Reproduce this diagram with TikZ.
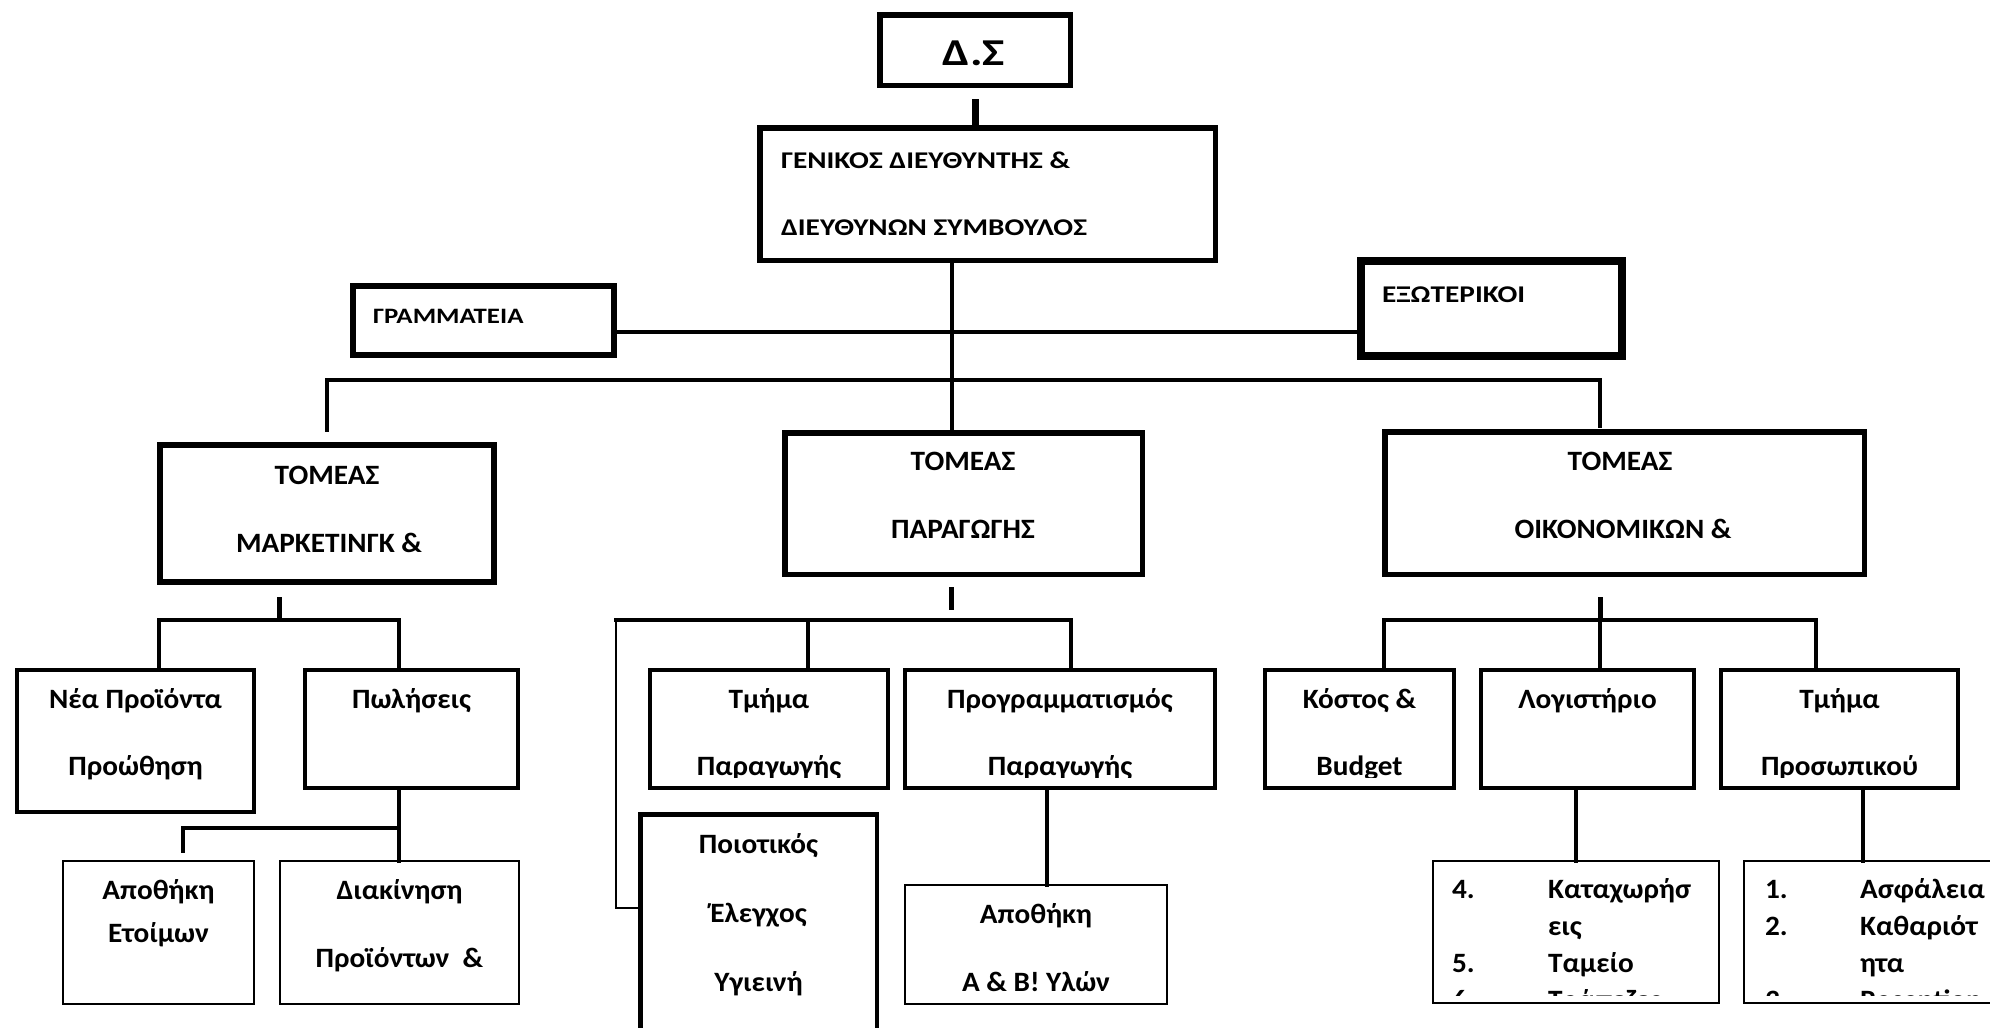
\documentclass[tikz,border=0pt]{standalone}
\usepackage{fontspec}
\setmainfont{Carlito}
\newfontfamily\wideS{Carlito}[FakeStretch=1.045]
\newfontfamily\wideT{Carlito}[FakeStretch=1.22]
\newfontfamily\wideD{Carlito}[FakeStretch=1.24]
\usetikzlibrary{calc}
\newcommand\fsz[2]{#1\fontsize{#2}{#2}\selectfont\bfseries}
% outer-edge box: name, x1, y1, x2, y2, line width
\newcommand\obox[6]{\node[draw=black, line width=#6pt, inner sep=0pt, outer sep=0pt,
  minimum width={(#4-#2-#6)*1pt}, minimum height={(#5-#3-#6)*1pt}]
  (#1) at ({(#2+#4)/2},{(#3+#5)/2}) {};}
\tikzset{
  lbl/.style={inner sep=0pt, outer sep=0pt, anchor=base},
  lblw/.style={lbl, anchor=base west},
  top/.style={font=\fsz{\wideT}{24}},
  sect/.style={font=\fsz{\wideS}{28}},
  sub/.style={font=\fsz{\wideS}{28}},
  conn/.style={line width=3.5pt, line cap=rect},
  stubline/.style={line width=5pt},
  thinconn/.style={line width=1.6pt},
}
\begin{document}
\begin{tikzpicture}[x=1pt,y=-1pt]
\useasboundingbox (0,0) rectangle (1990,1028);
\clip (0,0) rectangle (1990,1028);
\fill[white] (0,0) rectangle (1990,1028);

% ---------- boxes ----------
\obox{ds}{877}{12}{1073}{88}{5.5}
\obox{gen}{757}{125}{1218}{263}{5.5}
\obox{gram}{350}{283}{617}{358}{6}
\obox{ext}{1357}{257}{1626}{360}{8}
\obox{mkt}{157}{442}{497}{585}{6}
\obox{prod}{782}{430}{1145}{577}{5.5}
\obox{fin}{1382}{429}{1867}{577}{5.5}
\obox{nea}{15}{668}{256}{814}{4}
\obox{pol}{303}{668}{520}{790}{4}
\obox{tmp}{648}{668}{890}{790}{4}
\obox{prog}{903}{668}{1217}{790}{4}
\obox{kost}{1263}{668}{1456}{790}{4}
\obox{log}{1479}{668}{1696}{790}{4}
\obox{tpr}{1719}{668}{1960}{790}{4}
\obox{apet}{62}{860}{255}{1005}{2}
\obox{diak}{279}{860}{520}{1005}{2}
\obox{poi}{638}{812}{879}{1060}{4.5}
\obox{apab}{904}{884}{1168}{1005}{2}
\obox{kat}{1432}{860}{1720}{1004}{2}
\obox{asf}{1743}{860}{2030}{1004}{2}

% ---------- connectors ----------
\coordinate (s0) at (975,99);
\draw[line width=7pt] (s0) -- (s0 |- gen.north);
\coordinate (tr) at (952,0);
\draw[conn] (tr |- gen.south) -- (tr |- prod.north);
\coordinate (sl) at (0,332);
\draw[conn] (gram.east |- sl) -- (ext.west |- sl);
\coordinate (bL) at (327,430);
\coordinate (b1) at (327,380);
\coordinate (b2) at (1600,380);
\coordinate (bR) at (1600,426);
\draw[conn] (bL) -- (b1) -- (b2) -- (bR);

% marketing
\coordinate (m0) at (279,597);
\coordinate (m1) at (279,620);
\draw[stubline] (m0) -- (m1);
\coordinate (mL) at (159,620);
\coordinate (mR) at (399,620);
\draw[conn] (mL |- nea.north) -- (mL) -- (mR) -- (mR |- pol.north);
\coordinate (p1) at (399,828);
\coordinate (p2) at (183,828);
\coordinate (p3) at (183,851);
\draw[conn] (p1 |- pol.south) -- (p1 |- diak.north);
\draw[conn] (p1) -- (p2) -- (p3);

% production
\coordinate (q0) at (951,587);
\coordinate (q1) at (951,610);
\draw[stubline] (q0) -- (q1);
\coordinate (qL) at (616,620);
\coordinate (qA) at (808,620);
\coordinate (qR) at (1071,620);
\draw[conn] (qL) -- (qR) -- (qR |- prog.north);
\draw[conn] (qA) -- (qA |- tmp.north);
\coordinate (qc) at (616,908);
\draw[thinconn] (qL) -- (qc) -- (qc -| poi.west);
\coordinate (g1) at (1047,0);
\draw[conn] (g1 |- prog.south) -- (g1 |- apab.north);

% finance
\coordinate (f0) at (1600,597);
\coordinate (f1) at (1600,620);
\draw[stubline] (f0) -- (f1);
\coordinate (fL) at (1384,620);
\coordinate (fR) at (1816,620);
\draw[conn] (fL |- kost.north) -- (fL) -- (fR) -- (fR |- tpr.north);
\draw[conn] (f1) -- (f1 |- log.north);
\coordinate (l1) at (1576,0);
\draw[conn] (l1 |- log.south) -- (l1 |- kat.north);
\coordinate (l2) at (1863,0);
\draw[conn] (l2 |- tpr.south) -- (l2 |- asf.north);

% ---------- texts ----------
\node[lbl, font=\fsz{\wideD}{38}] (tds) at (974,65) {Δ.Σ};
\node[lblw, top] (tgen1) at (781,168) {ΓΕΝΙΚΟΣ ΔΙΕΥΘΥΝΤΗΣ \&};
\node[lblw, top] (tgen2) at (781,235) {ΔΙΕΥΘΥΝΩΝ ΣΥΜΒΟΥΛΟΣ};
\node[lblw, font=\fsz{\wideT}{22}] (tgram) at (373,323) {ΓΡΑΜΜΑΤΕΙΑ};
\node[lblw, top] (text) at (1382,302) {ΕΞΩΤΕΡΙΚΟΙ};

\node[lbl, sect] (tmkt1) at (327,484) {ΤΟΜΕΑΣ};
\node[lbl, sect] (tmkt2) at (329,552) {ΜΑΡΚΕΤΙΝΓΚ \&};
\node[lbl, sect] (tprod1) at (963,470) {ΤΟΜΕΑΣ};
\node[lbl, sect] (tprod2) at (963,538) {ΠΑΡΑΓΩΓΗΣ};
\node[lbl, sect] (tfin1) at (1620,470) {ΤΟΜΕΑΣ};
\node[lbl, sect] (tfin2) at (1623,538) {ΟΙΚΟΝΟΜΙΚΩΝ \&};

\node[lbl, sub] (tnea1) at (135.5,708) {Νέα Προϊόντα};
\node[lbl, sub] (tnea2) at (135.5,775) {Προώθηση};
\node[lbl, sub] (tpol) at (411.5,708) {Πωλήσεις};
\node[lbl, sub] (ttmp1) at (769,708) {Τμήμα};
\node[lbl, sub] (tprog1) at (1060,708) {Προγραμματισμός};
\node[lbl, sub] (tkost1) at (1359.5,708) {Κόστος \&};
\node[lbl, sub] (tlog) at (1587.5,708) {Λογιστήριο};
\node[lbl, sub] (ttpr1) at (1839.5,708) {Τμήμα};
\begin{scope}
\clip (600,740) rectangle (1970,777);
\node[lbl, sub] (ttmp2) at (769,775) {Παραγωγής};
\node[lbl, sub] (tprog2) at (1060,775) {Παραγωγής};
\node[lbl, sub] (tkost2) at (1359.5,775) {Budget};
\node[lbl, sub] (ttpr2) at (1839.5,775) {Προσωπικού};
\end{scope}

\node[lbl, sub] (tapet1) at (158.5,899) {Αποθήκη};
\node[lbl, sub] (tapet2) at (158.5,942) {Ετοίμων};
\node[lbl, sub] (tdiak1) at (399.5,899) {Διακίνηση};
\node[lbl, sub] (tdiak2) at (399.5,967) {Προϊόντων\ \ \&};
\node[lbl, sub] (tapab1) at (1036,923) {Αποθήκη};
\node[lbl, sub] (tapab2) at (1036,991) {Α \& Β! Υλών};
\node[lbl, sub] (tpoi1) at (758.5,853) {Ποιοτικός};
\node[lbl, sub] (tpoi2) at (758.5,922) {Έλεγχος};
\node[lbl, sub] (tpoi3) at (758.5,991) {Υγιεινή};

\begin{scope}
\clip (1430,860) rectangle (1990,995);
\node[lblw, sub] (k1n) at (1452,898) {4.};
\node[lblw, sub] (k1t) at (1548,898) {Καταχωρήσ};
\node[lblw, sub] (k1u) at (1548,935) {εις};
\node[lblw, sub] (k2n) at (1452,972) {5.};
\node[lblw, sub] (k2t) at (1548,972) {Ταμείο};
\node[lblw, sub] (k3n) at (1452,1009) {6.};
\node[lblw, sub] (k3t) at (1548,1009) {Τράπεζες};
\node[lblw, sub] (a1n) at (1765,898) {1.};
\node[lblw, sub] (a1t) at (1860,898) {Ασφάλεια};
\node[lblw, sub] (a2n) at (1765,935) {2.};
\node[lblw, sub] (a2t) at (1860,935) {Καθαριότ};
\node[lblw, sub] (a2u) at (1860,972) {ητα};
\node[lblw, sub] (a3n) at (1765,1009) {3.};
\node[lblw, sub] (a3t) at (1860,1009) {Reception};
\end{scope}
\end{tikzpicture}
\end{document}
